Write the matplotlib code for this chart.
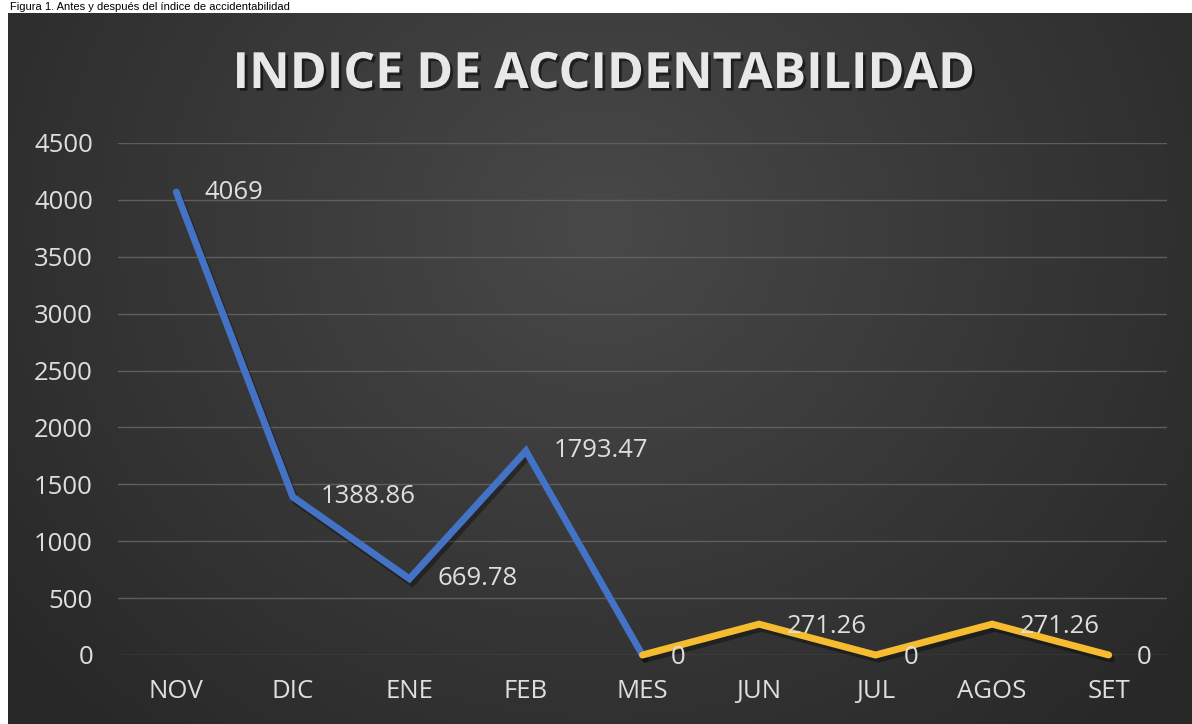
import numpy as np
import matplotlib.pyplot as plt
import matplotlib.patheffects as pe

# data
months = ["NOV", "DIC", "ENE", "FEB", "MES", "JUN", "JUL", "AGOS", "SET"]
antes = [4069, 1388.86, 669.78, 1793.47, 0]
despues = [0, 271.26, 0, 271.26, 0]
antes_labels = ["4069", "1388.86", "669.78", "1793.47"]
despues_labels = ["0", "271.26", "0", "271.26", "0"]
y_ticks = [0, 500, 1000, 1500, 2000, 2500, 3000, 3500, 4000, 4500]

W, H = 1192, 724
fig = plt.figure(figsize=(W / 100, H / 100), dpi=100)
fig.patch.set_facecolor("white")

# caption in the thin white strip above the chart
fig.text(10 / W, 1 - 10 / H, "Figura 1. Antes y después del índice de accidentabilidad",
         fontsize=8, family="Liberation Sans", color="black", va="baseline", ha="left")

# dark gradient background
bg = fig.add_axes([8 / W, 0, 1 - 8 / W, 1 - 13 / H], zorder=0)
gx, gy = np.meshgrid(np.linspace(0, 1, 300), np.linspace(0, 1, 200))
r = np.sqrt(((gx - 0.5) / 0.6) ** 2 + ((gy - 0.3) / 0.9) ** 2)
shade = np.clip(0.285 - 0.12 * r, 0.16, 0.29)
bg.imshow(np.dstack([shade, shade, shade]), aspect="auto", extent=[0, 1, 0, 1])
bg.axis("off")

ax = fig.add_axes([118 / W, 1 - 655 / H, (1167 - 118) / W, (655 - 143) / H], zorder=1)
ax.patch.set_alpha(0)

x = np.arange(len(months))
shadow = [pe.SimpleLineShadow(offset=(2, -3), shadow_color="black", alpha=0.35), pe.Normal()]
ax.plot(x[:5], antes, color="#4472C4", lw=5, solid_capstyle="round",
        solid_joinstyle="miter", clip_on=False, zorder=3, path_effects=shadow)
ax.plot(x[4:], despues, color="#F5BC30", lw=5, solid_capstyle="round",
        solid_joinstyle="miter", clip_on=False, zorder=4, path_effects=shadow)

lab_color = "#dedede"
lab_size = 18.5
for xi, v, t in zip(x[:4], antes[:4], antes_labels):
    ax.annotate(t, (xi, v), xytext=(20, 0), textcoords="offset points",
                ha="left", va="center", fontsize=lab_size, color=lab_color,
                family="Open Sans", zorder=5)
for xi, v, t in zip(x[4:], despues, despues_labels):
    ax.annotate(t, (xi, v), xytext=(20, -2), textcoords="offset points",
                ha="left", va="center", fontsize=lab_size, color=lab_color,
                family="Open Sans", zorder=5)

ax.set_xlim(-0.5, len(months) - 0.5)
ax.set_ylim(0, 4500)
ax.set_yticks(y_ticks)
ax.set_xticks(x)
ax.set_xticklabels(months)
ax.grid(axis="y", color="#5e5e5e", lw=1)
ax.set_axisbelow(True)
for s in ax.spines.values():
    s.set_visible(False)
ax.tick_params(length=0, labelcolor=lab_color, labelsize=lab_size)
ax.tick_params(axis="y", pad=18)
ax.tick_params(axis="x", pad=17)
for lbl in ax.get_xticklabels() + ax.get_yticklabels():
    lbl.set_family("Open Sans")

fig.text(604 / W, 1 - 75 / H, "INDICE DE ACCIDENTABILIDAD", ha="center", va="center",
         fontsize=36, fontweight="bold", family="Open Sans", color="#e8e8e8",
         path_effects=[pe.withSimplePatchShadow(offset=(2, -2), shadow_rgbFace="black", alpha=0.5)])

fig.savefig("out.png", dpi=100)
